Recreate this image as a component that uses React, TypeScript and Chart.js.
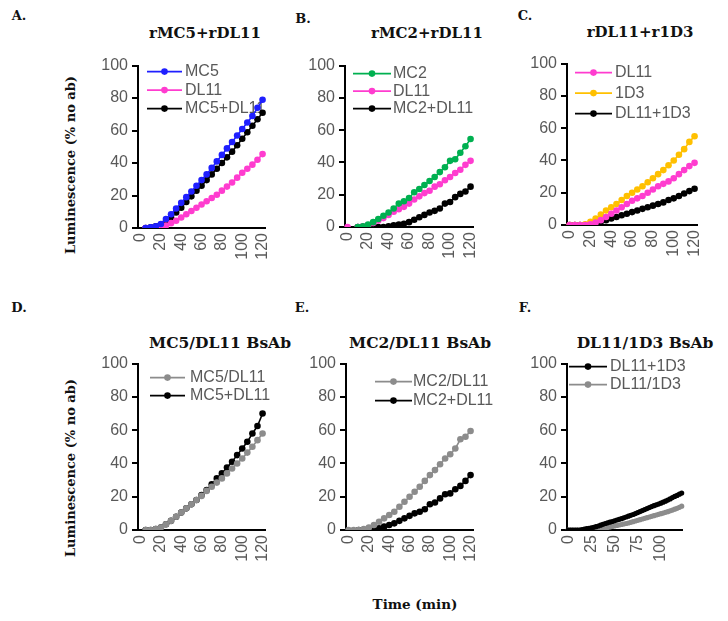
import React, { useEffect, useRef } from 'react';
import { Chart, registerables } from 'chart.js';

Chart.register(...registerables);

// ---- time points (min) ----
const TIMES_5 = [0, 5, 10, 15, 20, 25, 30, 35, 40, 45, 50, 55, 60, 65, 70, 75, 80, 85, 90, 95, 100, 105, 110, 115, 120];
const TIMES_2_5 = [
  0, 2.5, 5, 7.5, 10, 12.5, 15, 17.5, 20, 22.5, 25, 27.5, 30, 32.5, 35, 37.5, 40, 42.5, 45, 47.5,
  50, 52.5, 55, 57.5, 60, 62.5, 65, 67.5, 70, 72.5, 75, 77.5, 80, 82.5, 85, 87.5, 90, 92.5, 95, 97.5,
  100, 102.5, 105, 107.5, 110, 112.5, 115, 117.5, 120, 122.5,
];
const Y_TICKS = [0, 20, 40, 60, 80, 100];

// ---- A: rMC5 + rDL11 ----
const A_MC5 = [null, 0, 0.5, 1, 2.5, 5.5, 8.5, 12, 15.5, 19, 22.5, 26, 29.5, 33, 37, 41, 45, 49, 53, 57, 61, 65, 69, 74, 79];
const A_DL11 = [null, 0, 0, 0, 0.5, 1.5, 3, 4.5, 6.5, 8.5, 10.5, 12.5, 14.5, 16.5, 18.5, 20.5, 23, 25.5, 28, 31, 34, 36.5, 39, 42, 45.5];
const A_MC5_DL11 = [null, 0, 0.5, 1, 2, 4, 6.5, 9.5, 12.5, 16, 19.5, 23, 26, 29.5, 33, 36.5, 40, 43.5, 47, 51, 55, 59, 63, 67, 71];

// ---- B: rMC2 + rDL11 ----
const B_MC2 = [null, null, 0, 0.5, 1.5, 3, 5, 7, 9, 11.5, 14.5, 16, 18, 21.5, 23.5, 26, 28.5, 31, 34, 37, 41, 42, 46, 50, 54.5];
const B_DL11 = [0, null, 0, 0.5, 1, 2.5, 4, 5.5, 7.5, 9.5, 11, 12.5, 14.5, 17, 19, 21, 22.5, 25, 26.5, 29, 31, 33.5, 35.5, 38.5, 41];
const B_MC2_DL11 = [null, null, 0, 0, 0, 0, 0, 0, 0.5, 1, 1.5, 2, 3, 4.5, 6, 7.5, 9, 10, 11.5, 14.5, 15.5, 18.5, 20.5, 22, 25];

// ---- C: rDL11 + r1D3 ----
const C_DL11 = [0, 0, 0, 0, 0.5, 1.5, 3, 5, 7, 9, 11, 13, 15, 16.5, 18, 20, 22, 24, 25.5, 27, 29, 31.5, 34, 36.5, 38.5];
const C_1D3 = [0, 0, 0, 0.5, 2, 4, 6.5, 9, 11, 13, 15.5, 18, 20, 22, 24, 26.5, 29, 31.5, 34, 37, 40, 43.5, 47, 51.5, 55];
const C_DL11_1D3 = [0, 0, 0, 0, 0.5, 1, 2, 3, 4, 5, 6, 7, 8, 9, 10, 11, 12, 13, 14, 15.5, 16.5, 18, 19.5, 21, 22.5];

// ---- D: MC5/DL11 BsAb ----
const D_BSAB = [null, 0, 0, 0.5, 1.5, 3.5, 5.5, 8, 10.5, 13, 15.5, 18, 20.5, 23.5, 26, 28.5, 31, 34, 37, 40, 43, 46.5, 50, 54, 58];
const D_COMBO = [null, 0, 0, 0.5, 1.5, 3.5, 5.5, 8, 10.5, 13, 15.5, 18, 21, 24, 27.5, 31, 34, 37.5, 41, 45, 49, 53, 58, 62.5, 70];

// ---- E: MC2/DL11 BsAb ----
const E_BSAB = [0, 0, 0, 0.5, 1.5, 3, 5, 7, 9, 11, 14, 17, 20, 23, 26, 29.5, 33, 36, 39.5, 43, 45.5, 49, 54.5, 56, 59.5];
const E_COMBO = [null, null, 0, 0, 0, 0.5, 1, 2, 3, 4, 5.5, 7, 8.5, 10, 11, 12.5, 15.5, 16.5, 19, 21.5, 22, 24.5, 26.5, 29.5, 33];

// ---- F: DL11/1D3 BsAb (2.5 min readings) ----
const F_COMBO = [
  0, 0, 0, 0, 0, 0, 0.3, 0.5, 0.8, 1, 1.3, 1.6, 2, 2.4, 2.9, 3.4, 3.9, 4.3, 4.7, 5.1,
  5.5, 6, 6.4, 6.8, 7.3, 7.8, 8.3, 8.8, 9.3, 9.9, 10.5, 11.1, 11.7, 12.3, 12.9, 13.5, 14.1, 14.6, 15.1, 15.6,
  16.1, 16.7, 17.3, 18, 18.7, 19.5, 20.2, 20.8, 21.5, 22.2,
];
const F_BSAB = [
  0, 0, 0, 0, 0, 0, 0, 0, 0.1, 0.2, 0.3, 0.4, 0.5, 0.7, 0.9, 1.1, 1.3, 1.5, 1.8, 2.1,
  2.4, 2.7, 3, 3.3, 3.6, 3.9, 4.2, 4.6, 5, 5.4, 5.8, 6.2, 6.6, 7, 7.4, 7.8, 8.2, 8.6, 9, 9.4,
  9.8, 10.2, 10.6, 11, 11.5, 12, 12.5, 13, 13.6, 14.3,
];

const BLUE = '#1f1fff';
const PINK = '#ff3ccf';
const GREEN = '#00b050';
const GOLD = '#ffc000';
const BLACK = '#000000';
const GREY = '#8c8c8c';
const TEXT_GREY = '#595959';

type Series = { label: string; data: (number | null)[]; color: string };
type PanelSpec = {
  times: number[];
  labelStep: number;
  series: Series[];
  plot: { left: number; top: number; width: number; height: number };
  legend: { dx: number; dy: number; lineLen: number; gap: number; rowH: number };
  pointRadius: number;
};

const PANELS: PanelSpec[] = [
  {
    times: TIMES_5, labelStep: 20, pointRadius: 3.3,
    series: [
      { label: 'MC5', data: A_MC5, color: BLUE },
      { label: 'DL11', data: A_DL11, color: PINK },
      { label: 'MC5+DL11', data: A_MC5_DL11, color: BLACK },
    ],
    plot: { left: 138, top: 64, width: 137, height: 164 },
    legend: { dx: 9, dy: 6, lineLen: 35, gap: 3, rowH: 18.5 },
  },
  {
    times: TIMES_5, labelStep: 20, pointRadius: 3.3,
    series: [
      { label: 'MC2', data: B_MC2, color: GREEN },
      { label: 'DL11', data: B_DL11, color: PINK },
      { label: 'MC2+DL11', data: B_MC2_DL11, color: BLACK },
    ],
    plot: { left: 345, top: 64, width: 138, height: 163 },
    legend: { dx: 8, dy: 8, lineLen: 38, gap: 2, rowH: 17.5 },
  },
  {
    times: TIMES_5, labelStep: 20, pointRadius: 3.3,
    series: [
      { label: 'DL11', data: C_DL11, color: PINK },
      { label: '1D3', data: C_1D3, color: GOLD },
      { label: 'DL11+1D3', data: C_DL11_1D3, color: BLACK },
    ],
    plot: { left: 567, top: 62, width: 140, height: 163 },
    legend: { dx: 8, dy: 9, lineLen: 37, gap: 3, rowH: 20.5 },
  },
  {
    times: TIMES_5, labelStep: 20, pointRadius: 3.3,
    series: [
      { label: 'MC5/DL11', data: D_BSAB, color: GREY },
      { label: 'MC5+DL11', data: D_COMBO, color: BLACK },
    ],
    plot: { left: 138, top: 362, width: 137, height: 168 },
    legend: { dx: 12, dy: 14, lineLen: 35, gap: 5, rowH: 18 },
  },
  {
    times: TIMES_5, labelStep: 20, pointRadius: 3.3,
    series: [
      { label: 'MC2/DL11', data: E_BSAB, color: GREY },
      { label: 'MC2+DL11', data: E_COMBO, color: BLACK },
    ],
    plot: { left: 346, top: 362, width: 137, height: 168 },
    legend: { dx: 29, dy: 18, lineLen: 37, gap: 1, rowH: 19 },
  },
  {
    times: TIMES_2_5, labelStep: 25, pointRadius: 2.6,
    series: [
      { label: 'DL11+1D3', data: F_COMBO, color: BLACK },
      { label: 'DL11/1D3', data: F_BSAB, color: GREY },
    ],
    plot: { left: 567, top: 362, width: 127, height: 168 },
    legend: { dx: 2, dy: 3, lineLen: 38, gap: 3, rowH: 18 },
  },
];

const Y_AXIS_W = 45;
const X_AXIS_H = 42;
const PAD_T = 12;
const PAD_R = 12;
const SANS = '"Liberation Sans", Arial, sans-serif';

// Legend drawn inside the plot area: short line with a marker, then grey text.
const insideLegend = {
  id: 'insideLegend',
  beforeDatasetsDraw(chart: any, _args: any, opts: any) {
    if (!opts || opts.lineLen == null) return;
    const { ctx, chartArea } = chart;
    ctx.save();
    chart.data.datasets.forEach((ds: any, i: number) => {
      const y = chartArea.top + opts.dy + i * opts.rowH;
      const x0 = chartArea.left + opts.dx;
      const x1 = x0 + opts.lineLen;
      ctx.strokeStyle = ds.borderColor;
      ctx.lineWidth = 1.6;
      ctx.beginPath();
      ctx.moveTo(x0, y);
      ctx.lineTo(x1, y);
      ctx.stroke();
      ctx.fillStyle = ds.borderColor;
      ctx.beginPath();
      ctx.arc((x0 + x1) / 2, y, 3.3, 0, Math.PI * 2);
      ctx.fill();
      ctx.fillStyle = TEXT_GREY;
      ctx.font = `16px ${SANS}`;
      ctx.textBaseline = 'middle';
      ctx.textAlign = 'left';
      ctx.fillText(ds.label, x1 + opts.gap, y);
    });
    ctx.restore();
  },
};

function Panel({ spec }: { spec: PanelSpec }) {
  const ref = useRef<HTMLCanvasElement | null>(null);
  const w = Y_AXIS_W + spec.plot.width + PAD_R;
  const h = PAD_T + spec.plot.height + X_AXIS_H;

  useEffect(() => {
    if (!ref.current) return;
    const chart = new Chart(ref.current, {
      type: 'line',
      data: {
        labels: spec.times.map(String),
        datasets: spec.series.map((s) => ({
          label: s.label,
          data: s.data,
          borderColor: s.color,
          backgroundColor: s.color,
          pointBackgroundColor: s.color,
          pointBorderWidth: 0,
          pointRadius: spec.pointRadius,
          borderWidth: 1.6,
          tension: 0,
          spanGaps: false,
        })),
      },
      options: {
        responsive: false,
        animation: false,
        events: [],
        layout: { padding: { top: PAD_T, right: PAD_R, left: 0, bottom: 0 } },
        plugins: {
          legend: { display: false },
          tooltip: { enabled: false },
          insideLegend: spec.legend,
        } as any,
        scales: {
          x: {
            type: 'category',
            offset: true,
            grid: { display: false, drawTicks: false },
            border: { display: true, color: '#000', width: 2 },
            ticks: {
              autoSkip: false,
              minRotation: 90,
              maxRotation: 90,
              padding: 5,
              color: TEXT_GREY,
              font: { family: SANS, size: 16 },
              callback: (_v: any, i: number) => {
                const t = spec.times[i];
                return t % spec.labelStep === 0 ? String(t) : '';
              },
            },
            afterFit: (s: any) => { s.height = X_AXIS_H; },
          },
          y: {
            min: 0,
            max: 100,
            grid: { drawOnChartArea: false, drawTicks: true, tickLength: 6, color: '#000', lineWidth: 2 },
            border: { display: true, color: '#000', width: 2 },
            afterBuildTicks: (s: any) => { s.ticks = Y_TICKS.map((v) => ({ value: v })); },
            ticks: {
              padding: 4,
              color: TEXT_GREY,
              font: { family: SANS, size: 16 },
            },
            afterFit: (s: any) => { s.width = Y_AXIS_W; },
          },
        },
      },
      plugins: [insideLegend as any],
    });
    return () => chart.destroy();
  }, [spec]);

  return (
    <canvas
      ref={ref}
      width={w}
      height={h}
      style={{
        position: 'absolute',
        left: spec.plot.left - Y_AXIS_W,
        top: spec.plot.top - PAD_T,
        width: w,
        height: h,
      }}
    />
  );
}

const SERIF = '"DejaVu Serif", "Liberation Serif", serif';

function Label({ text, x, y, size, rotate }: { text: string; x: number; y: number; size: number; rotate?: boolean }) {
  return (
    <div
      style={{
        position: 'absolute',
        left: x,
        top: y,
        transform: `translate(-50%, -50%)${rotate ? ' rotate(-90deg)' : ''}`,
        whiteSpace: 'nowrap',
        fontFamily: SERIF,
        fontWeight: 'bold',
        fontSize: size,
        color: '#111',
        lineHeight: 1,
      }}
    >
      {text}
    </div>
  );
}

export default function App() {
  return (
    <div style={{ position: 'absolute', left: 0, top: 0, width: 728, height: 621, background: '#fff', overflow: 'hidden' }}>
      <Label text="A." x={19} y={15} size={13} />
      <Label text="B." x={303} y={18} size={13} />
      <Label text="C." x={525} y={15} size={13} />
      <Label text="D." x={19} y={307} size={13} />
      <Label text="E." x={302} y={307} size={13} />
      <Label text="F." x={525} y={307} size={13} />

      <Label text="rMC5+rDL11" x={205} y={33} size={15} />
      <Label text="rMC2+rDL11" x={427} y={33} size={15} />
      <Label text="rDL11+r1D3" x={640} y={32} size={15} />
      <Label text="MC5/DL11 BsAb" x={220} y={343} size={15.5} />
      <Label text="MC2/DL11 BsAb" x={420} y={343} size={15.5} />
      <Label text="DL11/1D3 BsAb" x={645} y={343} size={15.5} />

      <Label text="Luminescence (% no ab)" x={70} y={165} size={13} rotate />
      <Label text="Luminescence (% no ab)" x={70} y={468} size={13} rotate />
      <Label text="Time (min)" x={415} y={605} size={13.5} />

      {PANELS.map((p, i) => (
        <Panel key={i} spec={p} />
      ))}
    </div>
  );
}
